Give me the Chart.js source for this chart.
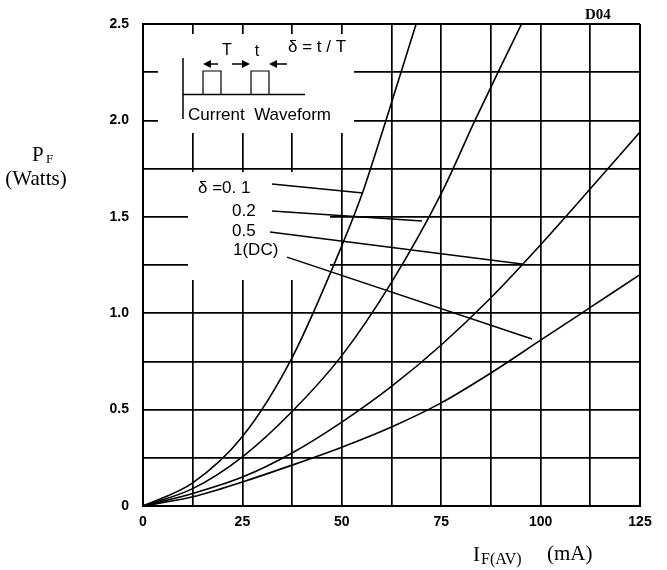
<!DOCTYPE html>
<html>
<head>
<meta charset="utf-8">
<script src="https://cdn.jsdelivr.net/npm/chart.js@4.4.1/dist/chart.umd.min.js"></script>
<style>
  html, body { margin: 0; padding: 0; background: #fff; }
  #wrap { width: 667px; height: 570px; position: relative; }
</style>
</head>
<body>
<div id="wrap"><canvas id="c" width="667" height="570"></canvas></div>
<script>
// ---- Data ----
const xCurrent01 = [0, 12.5, 25, 37.5, 50, 55.3, 61.1, 64.9, 68.7];
const yPower01   = [0, 0.12, 0.36, 0.77, 1.35, 1.63, 2.0, 2.25, 2.5];

const xCurrent02 = [0, 12.5, 25, 37.5, 50, 62.5, 75, 83.5, 89.3, 95.2];
const yPower02   = [0, 0.09, 0.255, 0.49, 0.78, 1.16, 1.62, 2.0, 2.25, 2.5];

const xCurrent05 = [0, 12.5, 25, 37.5, 50, 62.5, 75, 87.5, 100, 112.5, 125];
const yPower05   = [0, 0.065, 0.15, 0.275, 0.435, 0.62, 0.835, 1.08, 1.355, 1.645, 1.94];

const xCurrentDC = [0, 12.5, 25, 37.5, 50, 62.5, 75, 87.5, 100, 112.5, 125];
const yPowerDC   = [0, 0.048, 0.125, 0.212, 0.305, 0.41, 0.535, 0.69, 0.86, 1.03, 1.2];

// leader lines from the labels to the curves: [x0, y0, x1, y1] in data units
const leader01 = [32.44, 1.670, 55.33, 1.623];
const leader02 = [32.44, 1.530, 70.17, 1.478];
const leader05 = [31.94, 1.421, 95.32, 1.255];
const leaderDC = [36.22, 1.291, 97.84, 0.866];

const xTickLabels = ['0', '25', '50', '75', '100', '125'];
const yTickLabels = ['0', '0.5', '1.0', '1.5', '2.0', '2.5'];
const seriesLabels = ['δ =0. 1', '0.2', '0.5', '1(DC)'];

const SANS = '"Liberation Sans", Arial, Helvetica, sans-serif';
const SERIF = '"Liberation Serif", "Times New Roman", serif';

function pts(xs, ys) { return xs.map((x, i) => ({ x: x, y: ys[i] })); }
function seg(a) { return [{ x: a[0], y: a[1] }, { x: a[2], y: a[3] }]; }

function curve(label, xs, ys) {
  return {
    label: label, data: pts(xs, ys), borderColor: '#000', borderWidth: 1.6,
    pointRadius: 0, fill: false, cubicInterpolationMode: 'monotone'
  };
}
function leader(a) {
  return { data: seg(a), borderColor: '#000', borderWidth: 1.5, pointRadius: 0, fill: false, tension: 0 };
}

// map a reference-picture pixel position onto the real chart area
function mapper(chart) {
  const a = chart.chartArea;
  const sx = (a.right - a.left) / 497, sy = (a.bottom - a.top) / 482;
  return {
    X: px => a.left + (px - 143) * sx,
    Y: py => a.top + (py - 24) * sy
  };
}

const whiteBoxes = {
  id: 'whiteBoxes',
  beforeDatasetsDraw(chart) {
    const ctx = chart.ctx, m = mapper(chart);
    ctx.save();
    ctx.fillStyle = '#fff';
    // inset (current waveform) area
    ctx.fillRect(m.X(158), m.Y(34), m.X(354) - m.X(158), m.Y(133) - m.Y(34));
    // label area
    ctx.fillRect(m.X(188), m.Y(172), m.X(330) - m.X(188), m.Y(280) - m.Y(172));
    ctx.restore();
  }
};

function arrow(ctx, x0, y, x1) {
  const dir = Math.sign(x1 - x0);
  ctx.beginPath(); ctx.moveTo(x0, y); ctx.lineTo(x1 - dir * 5, y); ctx.stroke();
  ctx.beginPath();
  ctx.moveTo(x1, y); ctx.lineTo(x1 - dir * 8, y - 4); ctx.lineTo(x1 - dir * 8, y + 4);
  ctx.closePath(); ctx.fill();
}

const annotations = {
  id: 'annotations',
  afterDraw(chart) {
    const ctx = chart.ctx, m = mapper(chart);
    ctx.save();
    ctx.fillStyle = '#000'; ctx.strokeStyle = '#000';
    ctx.textBaseline = 'middle'; ctx.textAlign = 'left';

    // inset: current waveform
    ctx.lineWidth = 1.5;
    ctx.beginPath();
    ctx.moveTo(m.X(183), m.Y(58)); ctx.lineTo(m.X(183), m.Y(119));
    ctx.moveTo(m.X(183), m.Y(94.5)); ctx.lineTo(m.X(305), m.Y(94.5));
    ctx.stroke();
    ctx.lineWidth = 1.2;
    ctx.beginPath();
    ctx.moveTo(m.X(203), m.Y(94.5)); ctx.lineTo(m.X(203), m.Y(71)); ctx.lineTo(m.X(221), m.Y(71)); ctx.lineTo(m.X(221), m.Y(94.5));
    ctx.moveTo(m.X(251), m.Y(94.5)); ctx.lineTo(m.X(251), m.Y(71)); ctx.lineTo(m.X(269), m.Y(71)); ctx.lineTo(m.X(269), m.Y(94.5));
    ctx.stroke();
    ctx.lineWidth = 1.5;
    arrow(ctx, m.X(218), m.Y(64), m.X(203));
    arrow(ctx, m.X(232), m.Y(64), m.X(250));
    arrow(ctx, m.X(287), m.Y(64), m.X(269));

    ctx.font = '16px ' + SANS;
    ctx.textAlign = 'center';
    ctx.fillText('T', m.X(227), m.Y(51));
    ctx.fillText('t', m.X(257), m.Y(52));
    ctx.textAlign = 'left';
    ctx.font = '17px ' + SANS;
    ctx.fillText('δ = t / T', m.X(288), m.Y(47));
    ctx.font = '17px ' + SANS;
    ctx.fillText('Current  Waveform', m.X(188), m.Y(115));

    // series labels
    ctx.font = '17px ' + SANS;
    ctx.fillText(seriesLabels[0], m.X(198), m.Y(188));
    ctx.fillText(seriesLabels[1], m.X(232), m.Y(211));
    ctx.fillText(seriesLabels[2], m.X(232), m.Y(231));
    ctx.fillText(seriesLabels[3], m.X(233), m.Y(250));

    // D04 tag
    ctx.font = 'bold 15px ' + SERIF;
    ctx.fillText('D04', 585, 15);

    // y-axis title
    ctx.font = '21px ' + SERIF;
    ctx.fillText('P', 32, 155);
    ctx.font = '13px ' + SERIF;
    ctx.fillText('F', 46, 160);
    ctx.font = '21px ' + SERIF;
    ctx.textAlign = 'center';
    ctx.fillText('(Watts)', 36, 179);

    // x-axis title
    ctx.textAlign = 'left';
    ctx.font = '21px ' + SERIF;
    ctx.fillText('I', 473, 555);
    ctx.font = '16px ' + SERIF;
    ctx.fillText('F(AV)', 481, 560);
    ctx.font = '21px ' + SERIF;
    ctx.fillText('(mA)', 547, 554);
    ctx.restore();
  }
};

const ctx = document.getElementById('c').getContext('2d');
new Chart(ctx, {
  type: 'line',
  data: {
    datasets: [
      curve(seriesLabels[0], xCurrent01, yPower01),
      curve(seriesLabels[1], xCurrent02, yPower02),
      curve(seriesLabels[2], xCurrent05, yPower05),
      curve(seriesLabels[3], xCurrentDC, yPowerDC),
      leader(leader01), leader(leader02), leader(leader05), leader(leaderDC)
    ]
  },
  options: {
    responsive: false,
    animation: false,
    devicePixelRatio: 1,
    layout: { padding: { left: 0, top: 24, right: 27, bottom: 0 } },
    plugins: { legend: { display: false }, tooltip: { enabled: false } },
    scales: {
      x: {
        type: 'linear', min: 0, max: 125,
        afterFit(s) { s.height = 64; },
        ticks: {
          stepSize: 12.5, autoSkip: false, maxRotation: 0, padding: 8,
          color: '#000', font: { family: SANS, size: 14, weight: 'bold' },
          callback: v => (v % 25 === 0 ? xTickLabels[v / 25] : '')
        },
        grid: { color: '#000', lineWidth: c => (c.index === 0 || c.index === 10 ? 2 : 1.7), drawTicks: false },
        border: { display: true, color: '#000', width: 2 }
      },
      y: {
        min: 0, max: 2.5,
        afterFit(s) { s.width = 143; },
        ticks: {
          stepSize: 0.25, autoSkip: false, padding: 14,
          color: '#000', font: { family: SANS, size: 14, weight: 'bold' },
          callback: v => {
            const k = Math.round(v / 0.5 * 1000) / 1000;
            return Number.isInteger(k) ? yTickLabels[k] : '';
          }
        },
        grid: { color: '#000', lineWidth: c => (c.index === 0 || c.index === 10 ? 2 : 1.7), drawTicks: false },
        border: { display: true, color: '#000', width: 2 }
      }
    }
  },
  plugins: [whiteBoxes, annotations]
});
</script>
</body>
</html>
